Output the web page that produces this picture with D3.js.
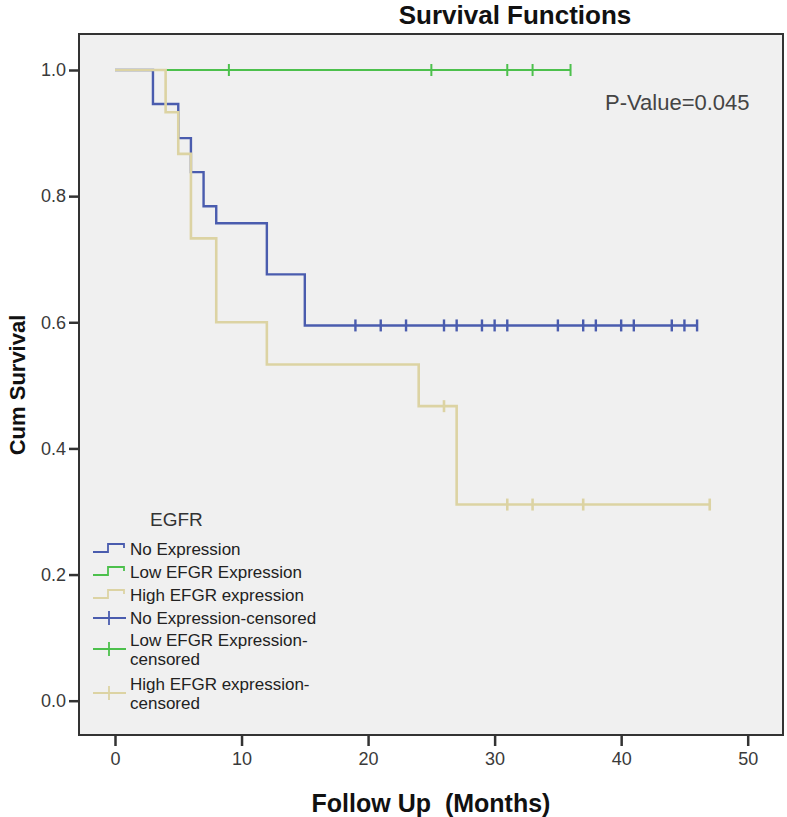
<!DOCTYPE html>
<meta charset="utf-8">
<style>
body { margin: 0; background: #fff; }
text { font-family: "Liberation Sans", Arial, sans-serif; }
</style>
<script src="https://d3js.org/d3.v7.min.js"></script>
<svg id="chart"></svg>
<script>
// survival steps (months, cumulative survival)
var noExpTimes = [0, 3, 5, 6, 7, 8, 12, 15, 46];
var noExpSurv  = [1, 0.946, 0.892, 0.838, 0.784, 0.757, 0.676, 0.595, 0.595];
var noExpCensored = [19, 21, 23, 26, 27, 29, 30, 31, 35, 37, 38, 40, 41, 44, 45, 46];

var lowTimes = [0, 36];
var lowSurv  = [1, 1];
var lowCensored = [9, 25, 31, 33, 36];

var highTimes = [0, 4, 5, 6, 8, 12, 24, 27, 47];
var highSurv  = [1, 0.933, 0.867, 0.733, 0.6, 0.533, 0.467, 0.311, 0.311];
var highCensored = [26, 31, 33, 37, 47];

var xTicks = [0, 10, 20, 30, 40, 50];
var yTicks = [0, 0.2, 0.4, 0.6, 0.8, 1.0];

var legendLabels = [["No Expression"], ["Low EFGR Expression"], ["High EFGR expression"],
  ["No Expression-censored"], ["Low EFGR Expression-", "censored"], ["High EFGR expression-", "censored"]];

var svg_width = 787, svg_height = 817;
var frame = {left: 79, top: 34, right: 783, bottom: 735};
var blue = "#4a5cae", green = "#4cc04c", tan = "#dcd3a3", axisCol = "#333";

var svg = d3.select("#chart").attr("width", svg_width).attr("height", svg_height);

var x = d3.scaleLinear().domain([0, 50]).range([115, 747.7]);
var y = d3.scaleLinear().domain([0, 1]).range([700.7, 70]);

// plot background + frame
svg.append("rect")
  .attr("x", frame.left).attr("y", frame.top)
  .attr("width", frame.right - frame.left).attr("height", frame.bottom - frame.top)
  .attr("fill", "#f0f0f0").attr("stroke", axisCol).attr("stroke-width", 2);

// axes
var xAxis = svg.append("g").attr("transform", "translate(0," + frame.bottom + ")")
  .call(d3.axisBottom(x).tickValues(xTicks).tickSize(11).tickPadding(6).tickFormat(d3.format("d")));
var yAxis = svg.append("g").attr("transform", "translate(" + frame.left + ",0)")
  .call(d3.axisLeft(y).tickValues(yTicks).tickSize(10).tickPadding(3).tickFormat(d3.format(".1f")));
[xAxis, yAxis].forEach(function(g){
  g.select(".domain").remove();
  g.selectAll(".tick line").attr("stroke", axisCol).attr("stroke-width", 2.5);
  g.selectAll(".tick text").attr("fill", "#3a3a3a").style("font-size", "18px")
    .style("font-family", '"Liberation Sans", Arial, sans-serif');
});

// titles
svg.append("text").attr("x", 515).attr("y", 24).attr("text-anchor", "middle")
  .style("font-size", "26px").style("font-weight", "bold").attr("fill", "#111")
  .text("Survival Functions");
svg.append("text").attr("x", 431).attr("y", 812).attr("text-anchor", "middle")
  .style("font-size", "25px").style("font-weight", "bold").attr("fill", "#111")
  .text("Follow Up\u00a0\u00a0(Months)");
svg.append("text").attr("transform", "translate(25,385) rotate(-90)").attr("text-anchor", "middle")
  .style("font-size", "22px").style("font-weight", "bold").attr("fill", "#111")
  .text("Cum Survival");
svg.append("text").attr("x", 605).attr("y", 110)
  .style("font-size", "22px").attr("fill", "#444")
  .text("P-Value=0.045");

// curves
var line = d3.line().x(function(d){ return x(d[0]); }).y(function(d){ return y(d[1]); })
  .curve(d3.curveStepAfter);

function drawGroup(times, surv, censored, col, width) {
  var pts = times.map(function(t, i){ return [t, surv[i]]; });
  svg.append("path").datum(pts).attr("d", line)
    .attr("fill", "none").attr("stroke", col).attr("stroke-width", width);
  // censored ticks sit on the step level at their time
  var level = function(t) {
    var s = surv[0];
    for (var i = 0; i < times.length; i++) if (times[i] <= t) s = surv[i];
    return s;
  };
  svg.append("g").selectAll("line").data(censored).enter().append("line")
    .attr("x1", function(d){ return x(d); }).attr("x2", function(d){ return x(d); })
    .attr("y1", function(d){ return y(level(d)) - 6; })
    .attr("y2", function(d){ return y(level(d)) + 6; })
    .attr("stroke", col).attr("stroke-width", width);
}

drawGroup(noExpTimes, noExpSurv, noExpCensored, blue, 2.4);
drawGroup(lowTimes, lowSurv, lowCensored, green, 2);
drawGroup(highTimes, highSurv, highCensored, tan, 2.6);

// legend
svg.append("text").attr("x", 150).attr("y", 526).style("font-size", "19px").attr("fill", "#333").text("EGFR");
var legCols = [blue, green, tan, blue, green, tan];
var legY = [549, 572, 595, 618, 649, 693];
var leg = svg.append("g");
legendLabels.forEach(function(lines, i){
  var cy = legY[i], col = legCols[i];
  if (i < 3) {
    leg.append("path")
      .attr("d", "M93," + (cy + 3) + "H108V" + (cy - 5) + "H124V" + (cy - 1))
      .attr("fill", "none").attr("stroke", col).attr("stroke-width", 1.8);
  } else {
    leg.append("path")
      .attr("d", "M93," + cy + "H126M109," + (cy - 7) + "V" + (cy + 7))
      .attr("fill", "none").attr("stroke", col).attr("stroke-width", 1.8);
  }
  var y0 = cy + 6 - (lines.length - 1) * 9.5;
  lines.forEach(function(s, k){
    leg.append("text").attr("x", 130).attr("y", y0 + k * 19)
      .style("font-size", "17px").attr("fill", "#222").text(s);
  });
});
</script>
